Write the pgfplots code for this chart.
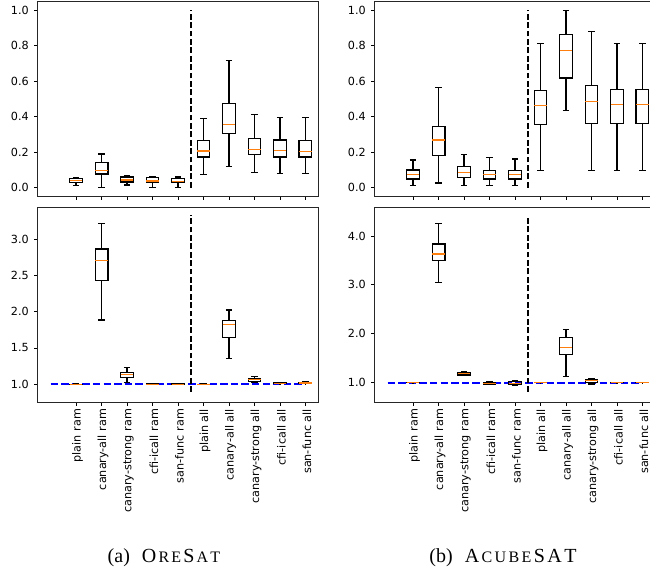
\documentclass[border=0pt]{standalone}
\usepackage{fontspec}
\usepackage{pgfplots}
\usepackage{pgfplotstable}
\pgfplotsset{compat=1.18}
\usepgfplotslibrary{statistics}
\newfontfamily\dejavu{DejaVu Sans}
\newfontfamily\capfont{Liberation Serif}
\newcommand\tk{\dejavu\fontsize{11.2}{13}\selectfont}
\definecolor{mplorange}{HTML}{FF7F0E}
\definecolor{mplblue}{HTML}{0000FF}

\pgfplotstableread{
lw q1 med q3 uw
0.011 0.030 0.040 0.050 0.058
0.000 0.077 0.096 0.141 0.190
0.015 0.032 0.043 0.060 0.068
0.000 0.028 0.037 0.055 0.060
0.000 0.028 0.036 0.053 0.060
0.075 0.173 0.207 0.264 0.392
0.120 0.305 0.356 0.476 0.718
0.085 0.185 0.215 0.279 0.412
0.079 0.173 0.209 0.269 0.395
0.079 0.173 0.202 0.266 0.397
}\oreTop

\pgfplotstableread{
lw q1 med q3 uw
0.013 0.049 0.073 0.100 0.156
0.026 0.183 0.269 0.345 0.565
0.013 0.056 0.087 0.119 0.185
0.013 0.049 0.072 0.096 0.169
0.013 0.049 0.072 0.098 0.162
0.098 0.358 0.463 0.550 0.814
0.435 0.618 0.774 0.862 1.000
0.096 0.360 0.488 0.574 0.879
0.096 0.360 0.469 0.554 0.814
0.096 0.360 0.467 0.554 0.814
}\acuTop

\pgfplotstableread{
lw q1 med q3 uw
0.998 0.999 1.000 1.001 1.002
1.885 2.429 2.710 2.866 3.221
1.023 1.097 1.134 1.157 1.226
0.998 0.999 1.001 1.003 1.005
0.993 0.997 1.001 1.006 1.010
0.998 0.999 1.000 1.001 1.002
1.355 1.650 1.820 1.876 2.023
1.023 1.037 1.065 1.083 1.110
1.005 1.008 1.012 1.018 1.020
1.005 1.008 1.016 1.028 1.037
}\oreBot

\pgfplotstableread{
lw q1 med q3 uw
0.998 0.999 1.000 1.001 1.002
3.052 3.495 3.632 3.836 4.252
1.150 1.157 1.184 1.210 1.225
0.960 0.966 0.986 1.000 1.020
0.952 0.960 0.980 1.020 1.034
0.998 0.999 1.000 1.001 1.002
1.130 1.580 1.716 1.920 2.091
0.973 1.007 1.040 1.060 1.089
0.995 0.998 1.000 1.002 1.005
0.995 0.998 1.000 1.003 1.007
}\acuBot

% draw one prepared box from row #2 of table #1
\newcommand\boxrow[2]{%
  \pgfplotstablegetelem{#2}{lw}\of#1\let\bLW\pgfplotsretval
  \pgfplotstablegetelem{#2}{q1}\of#1\let\bQA\pgfplotsretval
  \pgfplotstablegetelem{#2}{med}\of#1\let\bMD\pgfplotsretval
  \pgfplotstablegetelem{#2}{q3}\of#1\let\bQB\pgfplotsretval
  \pgfplotstablegetelem{#2}{uw}\of#1\let\bUW\pgfplotsretval
  \edef\bCMD{\noexpand\addplot[bx, boxplot prepared={draw direction=y, draw position=\the\numexpr#2+1\relax,
    lower whisker=\bLW, lower quartile=\bQA, median=\bMD, upper quartile=\bQB, upper whisker=\bUW}] coordinates {};}%
  \bCMD
}

\pgfplotsset{
  mpl/.style={
    scale only axis, width=280.4pt, height=195pt,
    xmin=-0.5, xmax=10.5, xtick={1,...,10},
    tick pos=left, tick align=outside, major tick length=3.5pt,
    tick style={black, line width=0.8pt},
    axis line style={black!85, line width=0.9pt},
    tick label style={font=\tk},
    /pgf/number format/assume math mode=true,
    yticklabel style={xshift=-2pt, /pgf/number format/fixed, /pgf/number format/fixed zerofill, /pgf/number format/precision=1},
    minor tick num=0,
  },
  toprow/.style={mpl, ymin=-0.05, ymax=1.05, ytick={0,0.2,0.4,0.6,0.8,1.0}, xticklabels={}},
  botrow/.style={mpl,
    xticklabels={plain ram, canary-all ram, canary-strong ram, cfi-icall ram, san-func ram, plain all, canary-all all, canary-strong all, cfi-icall all, san-func all},
    xticklabel style={rotate=90, anchor=east, yshift=-1.5pt}},
  bx/.style={black, solid, line width=1.2pt, fill=none,
    boxplot/box extend=0.5, boxplot/whisker extend=0.25,
    boxplot/every median/.style={draw=mplorange, line width=1.2pt}},
  vl/.style={black, line width=1.6pt, dash pattern=on 5.8pt off 2.6pt, no markers},
  hl/.style={mplblue, line width=2pt, dash pattern=on 7.4pt off 3.2pt, no markers},
}

\begin{document}
\begin{tikzpicture}
\useasboundingbox (0pt,0pt) rectangle (650pt,571pt);

% (a) OreSat top
\begin{axis}[toprow, at={(37.8pt,374.5pt)}, anchor=south west]
\pgfplotsinvokeforeach{0,...,9}{\boxrow{\oreTop}{#1}}
\addplot[vl] coordinates {(5.5,0) (5.5,1)};
\end{axis}

% (a) OreSat bottom
\begin{axis}[botrow, at={(37.8pt,169pt)}, anchor=south west, ymin=0.755, ymax=3.445, ytick={1.0,1.5,2.0,2.5,3.0}]
\addplot[hl] coordinates {(0,1) (10,1)};
\pgfplotsinvokeforeach{0,...,9}{\boxrow{\oreBot}{#1}}
\addplot[vl] coordinates {(5.5,0.894) (5.5,3.33)};
\end{axis}

% (b) AcubeSAT top
\begin{axis}[toprow, at={(374.8pt,374.5pt)}, anchor=south west]
\pgfplotsinvokeforeach{0,...,9}{\boxrow{\acuTop}{#1}}
\addplot[vl] coordinates {(5.5,0) (5.5,1)};
\end{axis}

% (b) AcubeSAT bottom
\begin{axis}[botrow, at={(374.8pt,169pt)}, anchor=south west, ymin=0.603, ymax=4.593, ytick={1.0,2.0,3.0,4.0}]
\addplot[hl] coordinates {(0,1) (10,1)};
\pgfplotsinvokeforeach{0,...,9}{\boxrow{\acuBot}{#1}}
\addplot[vl] coordinates {(5.5,0.81) (5.5,4.41)};
\end{axis}

\node[anchor=base, inner sep=0pt] at (164pt,8.7pt) {\capfont\fontsize{20}{22}\selectfont (a)\hspace{0.6em}O{\fontsize{16}{18}\selectfont\kern2.2pt R\kern2.2pt E\kern2.2pt}S{\fontsize{16}{18}\selectfont\kern2.2pt A\kern2.2pt T}};
\node[anchor=base, inner sep=0pt] at (503pt,8.7pt) {\capfont\fontsize{20}{22}\selectfont (b)\hspace{0.6em}A{\fontsize{16}{18}\selectfont\kern2.4pt C\kern2.4pt U\kern2.4pt B\kern2.4pt E\kern2.4pt}S\kern2.4pt A\kern2.4pt T};
\end{tikzpicture}
\end{document}
